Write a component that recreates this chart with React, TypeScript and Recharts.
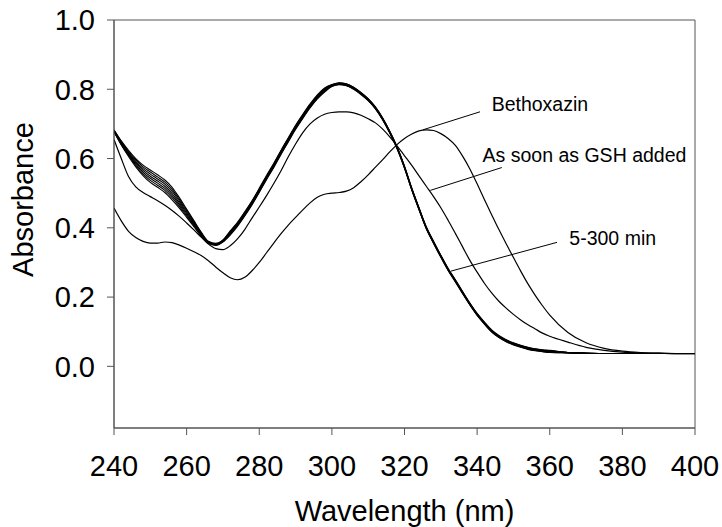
import React from 'react';
import { LineChart, Line, XAxis, YAxis, ReferenceLine, ReferenceDot, ReferenceArea, Label } from 'recharts';

const FONT = '"Liberation Sans", Arial, Helvetica, sans-serif';

const wavelengths = [
  240, 242, 244, 246, 248, 250, 252, 254, 256, 258,
  260, 262, 264, 266, 268, 270, 272, 274, 276, 278,
  280, 282, 284, 286, 288, 290, 292, 294, 296, 298,
  300, 302, 304, 306, 308, 310, 312, 314, 316, 318,
  320, 322, 324, 326, 328, 330, 332, 334, 336, 338,
  340, 342, 344, 346, 348, 350, 352, 354, 356, 358,
  360,
  365, 370, 375, 380, 385, 390, 395, 400,
];

const bethoxazin = [
  0.457, 0.420, 0.390, 0.372, 0.361, 0.356, 0.356, 0.359, 0.357, 0.350,
  0.341, 0.331, 0.320, 0.305, 0.287, 0.270, 0.256, 0.250, 0.257, 0.276,
  0.300, 0.328, 0.356, 0.383, 0.408, 0.430, 0.452, 0.472, 0.488, 0.497,
  0.500, 0.502, 0.506, 0.516, 0.533, 0.553, 0.575, 0.597, 0.620, 0.641,
  0.658, 0.671, 0.680, 0.683, 0.681, 0.672, 0.658, 0.638, 0.607, 0.570,
  0.527, 0.482, 0.438, 0.395, 0.354, 0.314, 0.275, 0.238, 0.205, 0.175,
  0.148,
  0.098, 0.068, 0.052, 0.044, 0.040, 0.038, 0.037, 0.037,
];

const gshAdded = [
  0.655, 0.600, 0.548, 0.518, 0.502, 0.490, 0.478, 0.465, 0.450, 0.433,
  0.414, 0.394, 0.373, 0.353, 0.340, 0.337, 0.348, 0.368, 0.395, 0.428,
  0.460, 0.493, 0.528, 0.565, 0.605, 0.642, 0.675, 0.700, 0.717, 0.728,
  0.733, 0.735, 0.735, 0.732, 0.725, 0.715, 0.703, 0.685, 0.662, 0.636,
  0.608, 0.580, 0.550, 0.520, 0.490, 0.458, 0.422, 0.384, 0.345, 0.306,
  0.272, 0.240, 0.212, 0.188, 0.168, 0.150, 0.134, 0.120, 0.108, 0.096,
  0.087,
  0.070, 0.055, 0.046, 0.041, 0.039, 0.038, 0.037, 0.037,
];

const minutes1 = [
  0.683, 0.651, 0.624, 0.600, 0.581, 0.567, 0.553, 0.538, 0.517, 0.487,
  0.454, 0.421, 0.388, 0.361, 0.355, 0.365, 0.391, 0.416, 0.446, 0.478,
  0.514, 0.551, 0.586, 0.624, 0.660, 0.696, 0.728, 0.758, 0.784, 0.804,
  0.814, 0.819, 0.816, 0.806, 0.791, 0.773, 0.749, 0.717, 0.678, 0.633,
  0.578, 0.515, 0.458, 0.403, 0.361, 0.321, 0.283, 0.250, 0.216, 0.183,
  0.153, 0.128, 0.105, 0.089, 0.077, 0.068, 0.061, 0.055, 0.051, 0.048,
  0.046,
  0.040, 0.038, 0.037, 0.037, 0.037, 0.037, 0.037, 0.037,
];

const minutes2 = [
  0.682, 0.649, 0.621, 0.596, 0.576, 0.561, 0.547, 0.532, 0.511, 0.482,
  0.450, 0.418, 0.386, 0.360, 0.354, 0.364, 0.389, 0.414, 0.444, 0.476,
  0.512, 0.549, 0.584, 0.622, 0.658, 0.694, 0.726, 0.756, 0.782, 0.802,
  0.813, 0.818, 0.815, 0.805, 0.790, 0.772, 0.748, 0.716, 0.677, 0.632,
  0.577, 0.514, 0.457, 0.402, 0.360, 0.320, 0.282, 0.249, 0.215, 0.182,
  0.152, 0.127, 0.104, 0.088, 0.076, 0.067, 0.060, 0.054, 0.050, 0.047,
  0.045,
  0.040, 0.038, 0.037, 0.037, 0.037, 0.037, 0.037, 0.037,
];

const minutes3 = [
  0.681, 0.647, 0.618, 0.592, 0.571, 0.555, 0.541, 0.526, 0.505, 0.477,
  0.446, 0.415, 0.384, 0.359, 0.353, 0.363, 0.387, 0.412, 0.442, 0.474,
  0.510, 0.547, 0.582, 0.620, 0.656, 0.692, 0.724, 0.754, 0.780, 0.800,
  0.812, 0.817, 0.814, 0.804, 0.789, 0.771, 0.747, 0.715, 0.676, 0.631,
  0.576, 0.513, 0.456, 0.401, 0.359, 0.319, 0.281, 0.248, 0.214, 0.181,
  0.151, 0.126, 0.103, 0.087, 0.075, 0.066, 0.059, 0.053, 0.049, 0.046,
  0.044,
  0.040, 0.038, 0.037, 0.037, 0.037, 0.037, 0.037, 0.037,
];

const minutes4 = [
  0.680, 0.645, 0.615, 0.588, 0.566, 0.549, 0.535, 0.520, 0.499, 0.472,
  0.442, 0.412, 0.382, 0.358, 0.352, 0.362, 0.385, 0.410, 0.440, 0.472,
  0.508, 0.545, 0.580, 0.618, 0.654, 0.690, 0.722, 0.752, 0.778, 0.798,
  0.811, 0.816, 0.813, 0.803, 0.788, 0.770, 0.746, 0.714, 0.675, 0.630,
  0.575, 0.512, 0.455, 0.400, 0.358, 0.318, 0.280, 0.247, 0.213, 0.180,
  0.150, 0.125, 0.102, 0.086, 0.074, 0.065, 0.058, 0.052, 0.048, 0.045,
  0.043,
  0.040, 0.038, 0.037, 0.037, 0.037, 0.037, 0.037, 0.037,
];

const minutes5 = [
  0.679, 0.643, 0.612, 0.584, 0.561, 0.543, 0.529, 0.514, 0.493, 0.467,
  0.438, 0.409, 0.380, 0.357, 0.351, 0.361, 0.383, 0.408, 0.438, 0.470,
  0.506, 0.543, 0.578, 0.616, 0.652, 0.688, 0.720, 0.750, 0.776, 0.796,
  0.810, 0.815, 0.812, 0.802, 0.787, 0.769, 0.745, 0.713, 0.674, 0.629,
  0.574, 0.511, 0.454, 0.399, 0.357, 0.317, 0.279, 0.246, 0.212, 0.179,
  0.149, 0.124, 0.101, 0.085, 0.073, 0.064, 0.057, 0.051, 0.047, 0.044,
  0.042,
  0.039, 0.038, 0.037, 0.037, 0.037, 0.037, 0.037, 0.037,
];

const minutes6 = [
  0.678, 0.641, 0.609, 0.580, 0.556, 0.537, 0.523, 0.508, 0.487, 0.462,
  0.434, 0.406, 0.378, 0.356, 0.350, 0.360, 0.381, 0.406, 0.436, 0.468,
  0.504, 0.541, 0.576, 0.614, 0.650, 0.686, 0.718, 0.748, 0.774, 0.794,
  0.809, 0.814, 0.811, 0.801, 0.786, 0.768, 0.744, 0.712, 0.673, 0.628,
  0.573, 0.510, 0.453, 0.398, 0.356, 0.316, 0.278, 0.245, 0.211, 0.178,
  0.148, 0.123, 0.100, 0.084, 0.072, 0.063, 0.056, 0.050, 0.046, 0.043,
  0.041,
  0.039, 0.038, 0.037, 0.037, 0.037, 0.037, 0.037, 0.037,
];

const minutes7 = [
  0.677, 0.639, 0.606, 0.576, 0.551, 0.531, 0.517, 0.502, 0.481, 0.457,
  0.430, 0.403, 0.376, 0.355, 0.349, 0.359, 0.379, 0.404, 0.434, 0.466,
  0.502, 0.539, 0.574, 0.612, 0.648, 0.684, 0.716, 0.746, 0.772, 0.792,
  0.808, 0.813, 0.810, 0.800, 0.785, 0.767, 0.743, 0.711, 0.672, 0.627,
  0.572, 0.509, 0.452, 0.397, 0.355, 0.315, 0.277, 0.244, 0.210, 0.177,
  0.147, 0.122, 0.099, 0.083, 0.071, 0.062, 0.055, 0.049, 0.045, 0.042,
  0.040,
  0.039, 0.038, 0.037, 0.037, 0.037, 0.037, 0.037, 0.037,
];

const xTicks = [240, 260, 280, 300, 320, 340, 360, 380, 400];
const yTicks = [0, 0.2, 0.4, 0.6, 0.8, 1.0];
const yDomain = [-0.178, 1.0];

const noteLabels = ['Bethoxazin', 'As soon as GSH added', '5-300 min'];
const noteTextWl = [344.0, 341.5, 365.4];
const noteTextAbs = [0.738, 0.591, 0.351];
const leaderFromWl = [340.8, 346.8, 362.0];
const leaderFromAbs = [0.735, 0.574, 0.358];
const leaderToWl = [325.1, 327.1, 332.8];
const leaderToAbs = [0.683, 0.508, 0.275];

const bundleKeys = ['m1', 'm2', 'm3', 'm4', 'm5', 'm6', 'm7'];
const bundleArrays = [minutes1, minutes2, minutes3, minutes4, minutes5, minutes6, minutes7];

const data = wavelengths.map((wl, i) => {
  const row: Record<string, number> = { wl, beth: bethoxazin[i], gsh: gshAdded[i] };
  bundleKeys.forEach((k, j) => {
    row[k] = bundleArrays[j][i];
  });
  return row;
});

const XTitle = (props: any) => {
  const vb = props.viewBox || { x: 114, y: 428, width: 581, height: 99 };
  return (
    <text x={vb.x + vb.width / 2} y={vb.y + 93} textAnchor="middle" fontSize={29} fontFamily={FONT} fill="#000">
      Wavelength (nm)
    </text>
  );
};

const YTitle = (props: any) => {
  const vb = props.viewBox || { x: 0, y: 20, width: 114, height: 408 };
  const x = vb.x + 33;
  const y = vb.y + 179.5;
  return (
    <text x={x} y={y} transform={`rotate(-90, ${x}, ${y})`} textAnchor="middle" fontSize={29} fontFamily={FONT} fill="#000">
      Absorbance
    </text>
  );
};

const makeNoteShape = (text: string) => (props: any) => (
  <text x={props.cx} y={props.cy} fontSize={19.5} fontFamily={FONT} fill="#000">
    {text}
  </text>
);

export default function App() {
  return (
    <div style={{ position: 'absolute', left: 0, top: 0, width: 722, height: 527, background: '#fff' }}>
      <LineChart width={722} height={527} data={data} margin={{ top: 20, right: 27, bottom: 0, left: 0 }}>
        <XAxis
          dataKey="wl"
          type="number"
          domain={[240, 400]}
          ticks={xTicks}
          interval={0}
          height={99}
          tickSize={7}
          tickMargin={20}
          stroke="#555"
          tick={{ fill: '#000', fontSize: 29, fontFamily: FONT }}
          allowDataOverflow
        >
          <Label content={XTitle} />
        </XAxis>
        <YAxis
          type="number"
          domain={yDomain}
          ticks={yTicks}
          interval={0}
          width={114}
          tickSize={7}
          tickMargin={12}
          stroke="#555"
          tickFormatter={(v: number) => v.toFixed(1)}
          tick={{ fill: '#000', fontSize: 29, fontFamily: FONT }}
          allowDataOverflow
        >
          <Label content={YTitle} />
        </YAxis>
        <ReferenceArea x1={240} x2={400} y1={yDomain[0]} y2={yDomain[1]} fill="none" stroke="#555" strokeWidth={1} ifOverflow="visible" />
        <Line dataKey="beth" type="monotone" stroke="#000" strokeWidth={1.2} dot={false} isAnimationActive={false} />
        <Line dataKey="gsh" type="monotone" stroke="#000" strokeWidth={1.2} dot={false} isAnimationActive={false} />
        {bundleKeys.map((k) => (
          <Line key={k} dataKey={k} type="monotone" stroke="#000" strokeWidth={1.1} dot={false} isAnimationActive={false} />
        ))}
        {noteLabels.map((t, i) => (
          <ReferenceLine
            key={'l' + i}
            segment={[
              { x: leaderFromWl[i], y: leaderFromAbs[i] },
              { x: leaderToWl[i], y: leaderToAbs[i] },
            ]}
            stroke="#000"
            strokeWidth={1}
            ifOverflow="visible"
          />
        ))}
        {noteLabels.map((t, i) => (
          <ReferenceDot
            key={'t' + i}
            x={noteTextWl[i]}
            y={noteTextAbs[i]}
            r={0}
            ifOverflow="visible"
            shape={makeNoteShape(t)}
          />
        ))}
      </LineChart>
    </div>
  );
}
